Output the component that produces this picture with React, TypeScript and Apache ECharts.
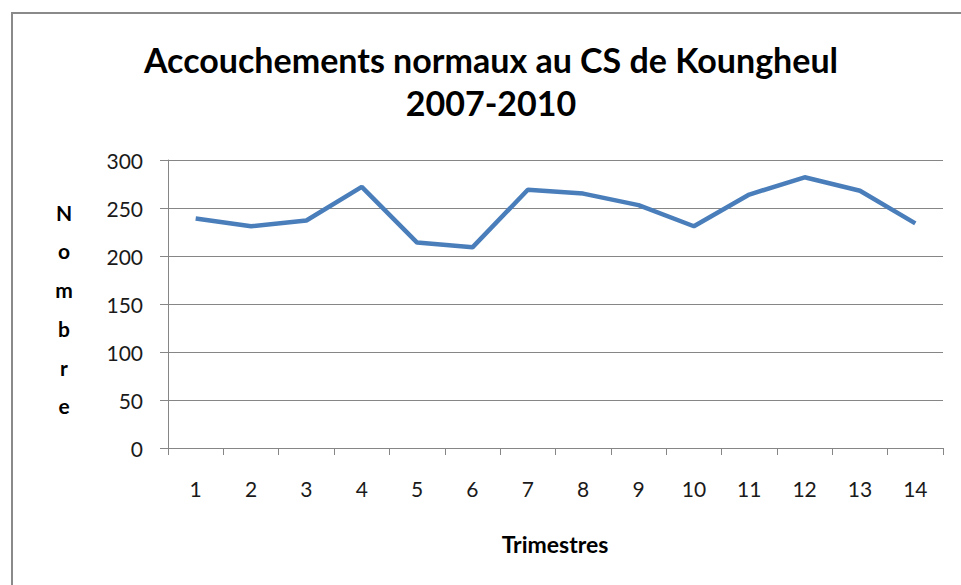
import React, { useEffect, useRef } from "react";
import * as echarts from "echarts";

const categories = ["1", "2", "3", "4", "5", "6", "7", "8", "9", "10", "11", "12", "13", "14"];
const values = [239, 231, 237, 272, 214, 209, 269, 265, 253, 231, 264, 282, 268, 234];
const titleLines = ["Accouchements normaux au CS de Koungheul", "2007-2010"];
const yName = "Nombre";
const xName = "Trimestres";

const FONT = "Lato, 'Open Sans', sans-serif";

export default function App() {
  const ref = useRef<HTMLDivElement>(null);
  useEffect(() => {
    if (!ref.current) return;
    const chart = echarts.init(ref.current, null, { renderer: "svg" });
    chart.setOption({
      animation: false,
      backgroundColor: "#ffffff",
      grid: { left: 168, right: 18, top: 160, bottom: 137 },
      graphic: [
        {
          type: "rect",
          shape: { x: 12, y: 13, width: 1000, height: 700 },
          style: { fill: "none", stroke: "#8a8a8a", lineWidth: 2 },
          silent: true,
        },
        {
          type: "text",
          x: 491,
          y: 59,
          style: {
            text: titleLines[0],
            textAlign: "center",
            textVerticalAlign: "middle",
            font: `bold 34px ${FONT}`,
            fill: "#000000",
          },
        },
        {
          type: "text",
          x: 491,
          y: 102,
          style: {
            text: titleLines[1],
            textAlign: "center",
            textVerticalAlign: "middle",
            font: `bold 34px ${FONT}`,
            fill: "#000000",
          },
        },
        {
          type: "text",
          x: 64,
          y: 309,
          style: {
            text: yName.split("").join("\n"),
            textAlign: "center",
            textVerticalAlign: "middle",
            lineHeight: 38.7,
            font: `bold 21px ${FONT}`,
            fill: "#000000",
          },
        },
        {
          type: "text",
          x: 555,
          y: 544,
          style: {
            text: xName,
            textAlign: "center",
            textVerticalAlign: "middle",
            font: `bold 23px ${FONT}`,
            fill: "#000000",
          },
        },
      ],
      xAxis: {
        type: "category",
        data: categories,
        boundaryGap: true,
        axisLine: { show: true, lineStyle: { color: "#868686", width: 1 } },
        axisTick: { show: true, length: 7, lineStyle: { color: "#868686" } },
        axisLabel: { margin: 30, fontSize: 21, fontFamily: FONT, color: "#1a1a1a" },
        splitLine: { show: false },
      },
      yAxis: {
        type: "value",
        min: 0,
        max: 300,
        interval: 50,
        axisLine: { show: true, lineStyle: { color: "#868686", width: 1 } },
        axisTick: { show: true, length: 8, lineStyle: { color: "#868686" } },
        axisLabel: { margin: 25, fontSize: 21, fontFamily: FONT, color: "#1a1a1a" },
        splitLine: { show: true, lineStyle: { color: "#868686", width: 1 } },
      },
      series: [
        {
          type: "line",
          data: values,
          symbol: "none",
          lineStyle: { color: "#4a7ebb", width: 4.5 },
          itemStyle: { color: "#4a7ebb" },
        },
      ],
    });
    return () => chart.dispose();
  }, []);
  return (
    <div
      ref={ref}
      style={{ position: "fixed", left: 0, top: 0, width: 961, height: 585 }}
    />
  );
}
